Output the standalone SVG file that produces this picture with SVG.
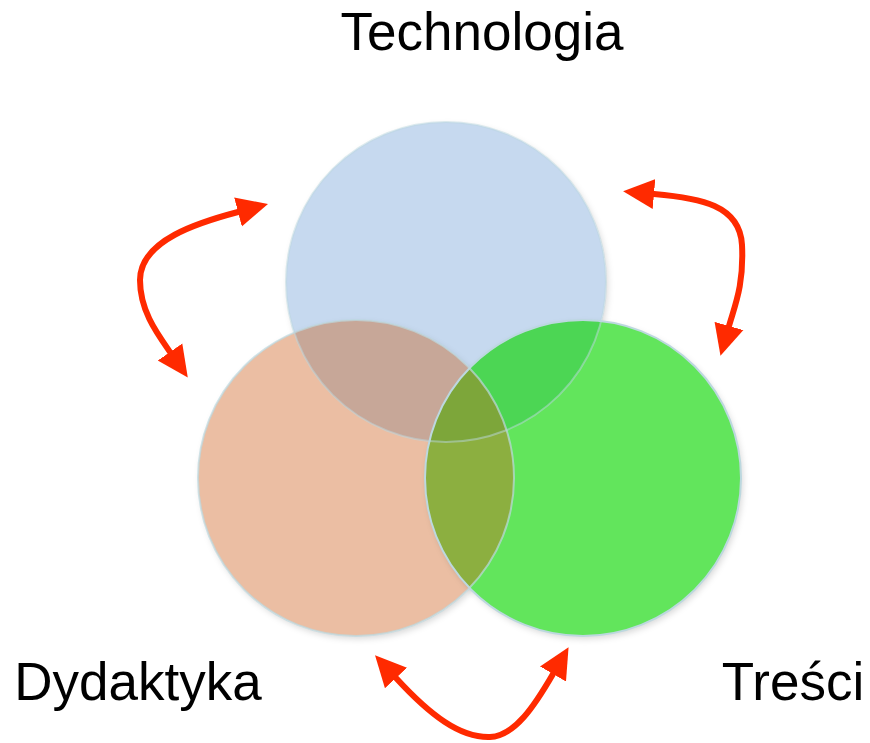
<svg xmlns="http://www.w3.org/2000/svg" width="870" height="743" viewBox="0 0 870 743">
  <style>
    .lbl { font-family: "Liberation Sans", Arial, sans-serif; font-size: 53px; fill: #000; }
    .edge { fill: none; stroke: #FF2A00; stroke-width: 6; stroke-linecap: round; marker-start: url(#head); marker-end: url(#head); }
    .ring { fill: none; stroke: #BCD8DF; stroke-width: 2; }
  </style>
  <defs>
    <marker id="head" markerUnits="userSpaceOnUse" markerWidth="34" markerHeight="34" viewBox="0 -17 34 34" refX="0" refY="0" orient="auto-start-reverse">
      <path d="M0,-15 L31,0 L0,15 z" fill="#FF2A00"/>
    </marker>
    <clipPath id="cBlue"><circle cx="446" cy="282" r="160"/></clipPath>
    <clipPath id="cOrange"><circle cx="356" cy="478" r="158"/></clipPath>
    <clipPath id="cGreen"><circle cx="583" cy="478" r="158"/></clipPath>
    <filter id="sh" x="-10%" y="-10%" width="120%" height="120%">
      <feDropShadow dx="2" dy="3" stdDeviation="3" flood-color="#000" flood-opacity="0.15"/>
    </filter>
  </defs>

  <g id="node-technologia">
    <circle cx="446" cy="282" r="160" fill="#C6D9EF" filter="url(#sh)"/>
    <text class="lbl" x="482" y="50" text-anchor="middle">Technologia</text>
  </g>
  <g id="node-dydaktyka">
    <circle cx="356" cy="478" r="158" fill="#EBBEA3" filter="url(#sh)"/>
    <text class="lbl" x="138" y="700" text-anchor="middle">Dydaktyka</text>
  </g>
  <g id="node-tresci">
    <circle cx="583" cy="478" r="158" fill="#62E55C" filter="url(#sh)"/>
    <text class="lbl" x="793" y="700" text-anchor="middle">Treści</text>
  </g>

  <g id="overlaps">
    <g clip-path="url(#cBlue)">
      <circle cx="356" cy="478" r="158" fill="#C7A798"/>
      <circle cx="583" cy="478" r="158" fill="#4CD654"/>
    </g>
    <g clip-path="url(#cOrange)">
      <circle cx="583" cy="478" r="158" fill="#8CAF40"/>
      <g clip-path="url(#cGreen)">
        <circle cx="446" cy="282" r="160" fill="#7DA63A"/>
      </g>
    </g>
    <circle class="ring" cx="446" cy="282" r="160" opacity="0.5"/>
    <circle class="ring" cx="356" cy="478" r="158" opacity="0.7"/>
    <circle class="ring" cx="583" cy="478" r="158"/>
  </g>

  <g id="connectors">
    <path class="edge" d="M238,212 C200,222 140,240 140,280 C140,310 156,332 170,352"/>
    <path class="edge" d="M654,194 C700,198 740,205 742,245 C744,285 735,305 729,326"/>
    <path class="edge" d="M396,678 C430,715 460,738 490,737 C515,736 535,705 553,674"/>
  </g>
</svg>
